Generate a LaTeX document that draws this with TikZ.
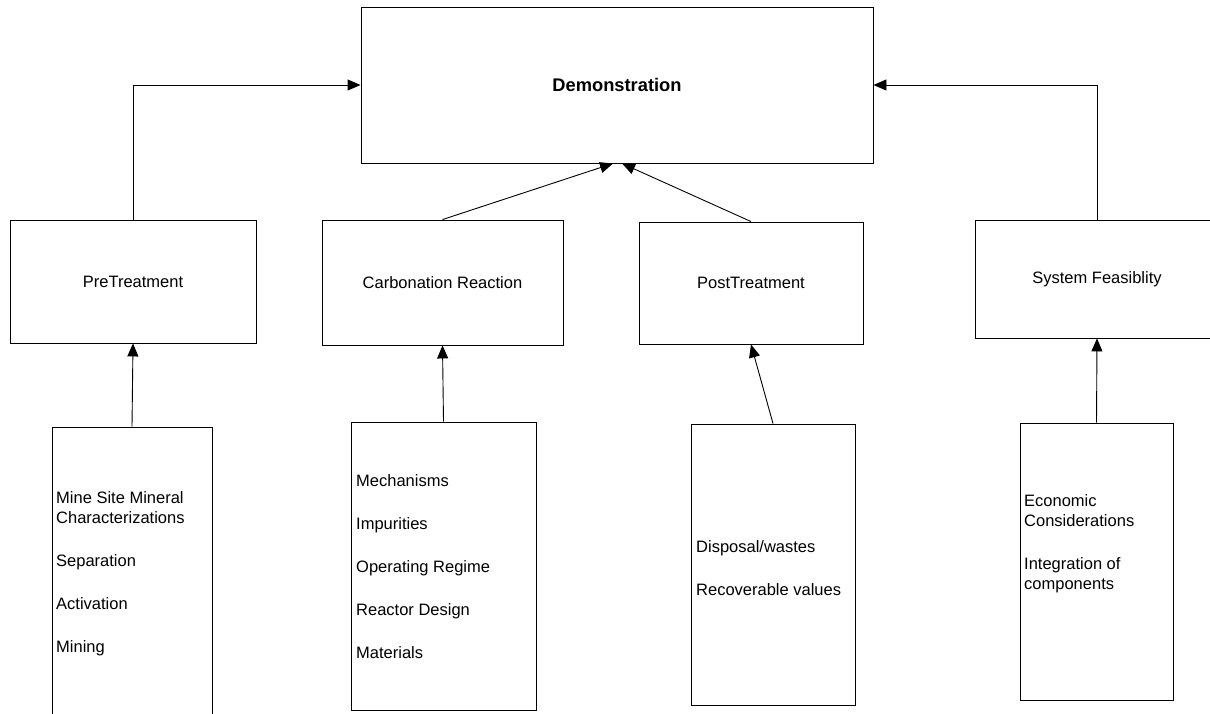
\documentclass[tikz,border=0pt]{standalone}
\usepackage{fontspec}
\setmainfont{Liberation Sans}
\usetikzlibrary{arrows.meta}
\tikzset{
  box/.style={draw, line width=0.9pt, inner sep=0pt, font=\fontsize{16.5}{20}\selectfont},
  items/.style={anchor=north west, inner sep=0pt, align=left, font=\fontsize{16.5}{20}\selectfont},
  link/.style={->, line width=0.9pt},
}
\begin{document}
\begin{tikzpicture}[x=1pt,y=-1pt,>={Triangle[length=13pt,width=11pt]}]
    \useasboundingbox (0,0) rectangle (1210,714);
    % top box
    \node[box, minimum width=512pt, minimum height=156pt, font=\bfseries\fontsize{18.3}{20}\selectfont] (demo) at (617,85) {Demonstration};
    % middle row
    \node[box, minimum width=246pt, minimum height=123pt] (pre) at (133,281.5) {PreTreatment};
    \node[box, minimum width=241pt, minimum height=125pt] (carb) at (442.5,282.5) {Carbonation Reaction};
    \node[box, minimum width=224pt, minimum height=122pt] (post) at (751,283) {PostTreatment};
    \node[box, minimum width=244pt, minimum height=118pt] (sys) at (1097,279) {System Feasiblity};
    % bottom row
    \node[box, minimum width=160pt, minimum height=293pt] (prelist) at (132,573.5) {};
    \node[box, minimum width=185pt, minimum height=288pt] (carblist) at (443.5,566) {};
    \node[box, minimum width=164pt, minimum height=281pt] (postlist) at (773,564.5) {};
    \node[box, minimum width=153pt, minimum height=277pt] (syslist) at (1096.5,561.5) {};
    \node[items] (pretext) at (56,491) {Mine Site Mineral\\Characterizations\\[23pt]Separation\\[23pt]Activation\\[23pt]Mining};
    \node[items] (carbtext) at (356,474) {Mechanisms\\[23pt]Impurities\\[23pt]Operating Regime\\[23pt]Reactor Design\\[23pt]Materials};
    \node[items] (posttext) at (696,540) {Disposal/wastes\\[23pt]Recoverable values};
    \node[items] (systext) at (1024,494) {Economic\\Considerations\\[23pt]Integration of\\components};
    % arrows
    \draw[link] (pre.north) |- (demo.west);
    \draw[link] (sys.north) |- (demo.east);
    \draw[link] (carb.north) -- ([xshift=-4pt]demo.south);
    \draw[link] (post.north) -- ([xshift=5pt]demo.south);
    \draw[link] (prelist.north) -- (pre.south);
    \draw[link] (carblist.north) -- (carb.south);
    \draw[link] (postlist.north) -- (post.south);
    \draw[link] (syslist.north) -- (sys.south);
\end{tikzpicture}
\end{document}
